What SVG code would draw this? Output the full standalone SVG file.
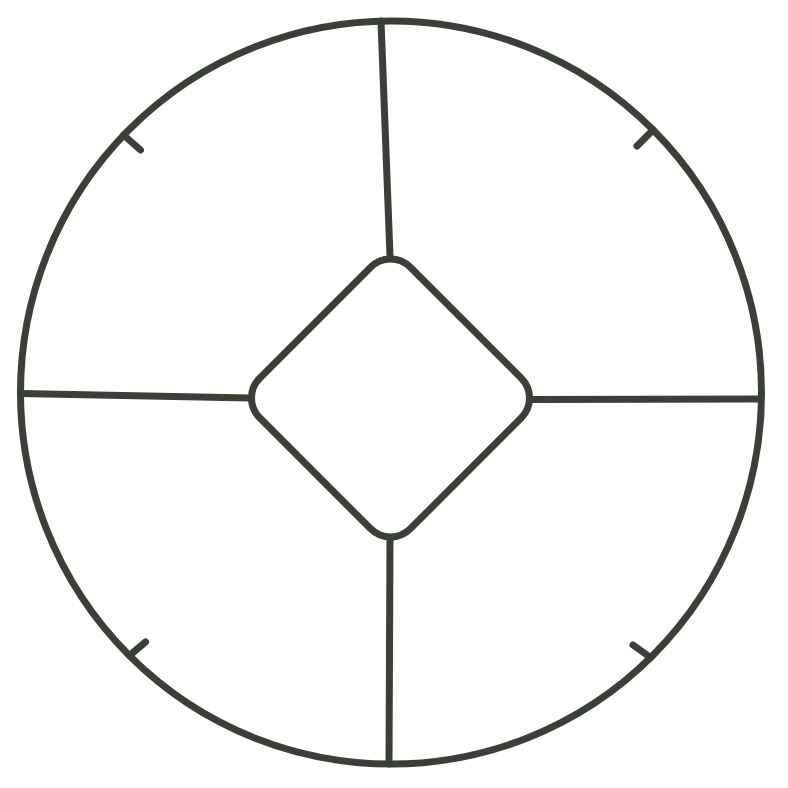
<svg xmlns="http://www.w3.org/2000/svg" width="788" height="788" viewBox="0 0 788 788">
<style>
.w{fill:none;stroke:#3a4038;stroke-width:7;stroke-linecap:round;stroke-linejoin:round}
</style>
<rect width="788" height="788" fill="#ffffff"/>
<g id="frame">
<ellipse class="w" cx="391" cy="392.5" rx="370.5" ry="371.5"/>
</g>
<g id="spokes">
<line class="w" x1="381" y1="21" x2="390" y2="256"/>
<line class="w" x1="390" y1="538" x2="389" y2="764"/>
<line class="w" x1="20.5" y1="393.5" x2="250" y2="398"/>
<line class="w" x1="532" y1="399.5" x2="761" y2="399"/>
</g>
<g id="diamond">
<rect class="w" x="-106.5" y="-106.5" width="213" height="213" rx="28" transform="translate(390.5 398) rotate(45)"/>
</g>
<g id="ticks">
<line class="w" x1="123.5" y1="135" x2="140.5" y2="150"/>
<line class="w" x1="653" y1="130" x2="637" y2="146"/>
<line class="w" x1="650.5" y1="657.5" x2="633" y2="645"/>
<line class="w" x1="129.5" y1="655.5" x2="145.5" y2="642"/>
</g>
</svg>
